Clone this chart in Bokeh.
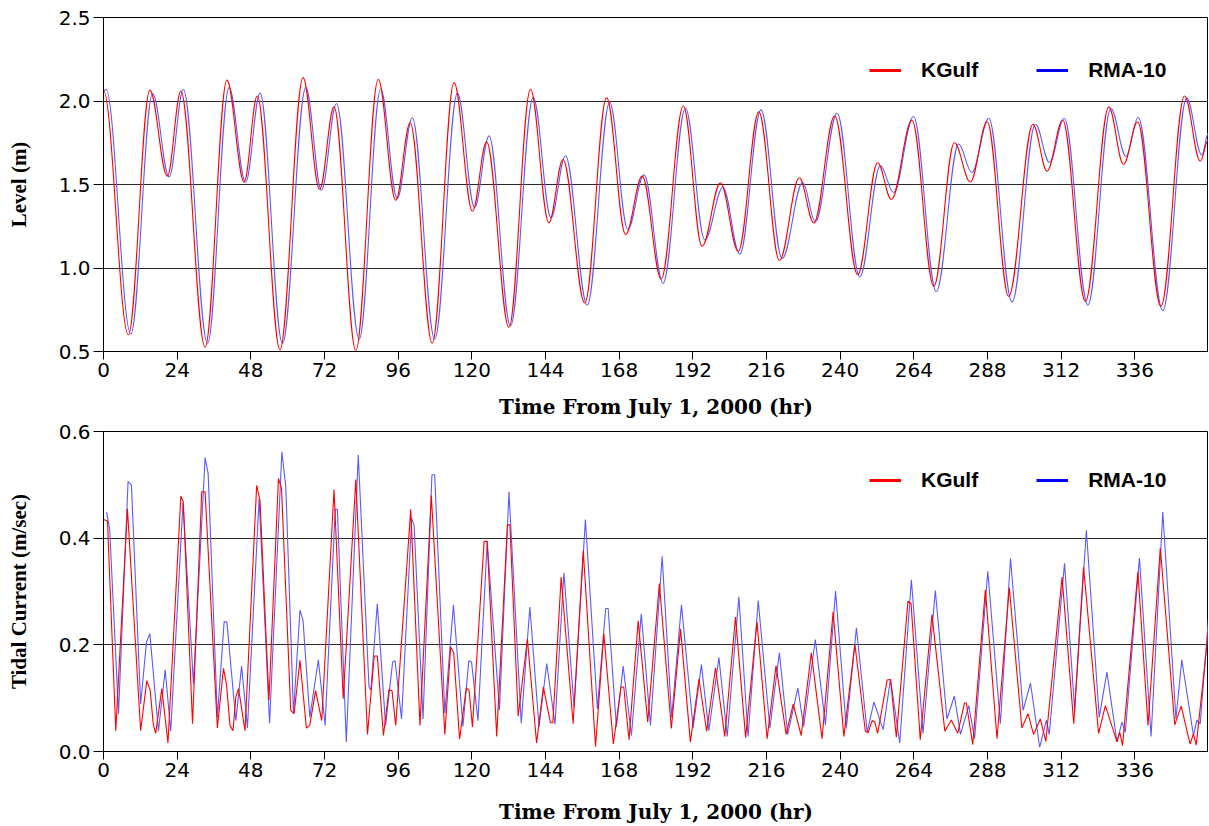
import numpy as np
from bokeh.plotting import figure
from bokeh.layouts import column
from bokeh.models import FixedTicker, PrintfTickFormatter, Legend, LegendItem, Range1d
from bokeh.embed import file_html
from bokeh.resources import INLINE

# ---------------- data (turning points of each series) ----------------
# Water level (m): KGulf
lev_k_t = [0, 8.1, 15.1, 20.8, 25.2, 33.1, 40.2, 45.8, 50.1, 57.5,
           65.0, 70.4, 75.1, 82.2, 89.5, 95.2, 99.9, 107.1, 114.2, 120.2,
           124.8, 132.1, 139.1, 145.1, 149.7, 156.8, 163.9, 170.1, 175.5, 181.7,
           188.9, 195.0, 201.0, 206.8, 213.5, 220.2, 226.7, 231.4, 238.2, 245.7,
           252.2, 256.7, 263.4, 270.5, 277.2, 282.4, 287.9, 294.9, 302.8, 307.4,
           312.5, 319.9, 327.5, 332.3, 336.9, 344.5, 352.2, 357.3, 360]
lev_k_v = [2.06, 0.60, 2.065, 1.55, 2.06, 0.525, 2.125, 1.515, 2.03, 0.51,
           2.14, 1.47, 1.965, 0.505, 2.13, 1.405, 1.87, 0.55, 2.11, 1.34,
           1.755, 0.645, 2.07, 1.27, 1.65, 0.79, 2.02, 1.20, 1.55, 0.935,
           1.97, 1.13, 1.51, 1.10, 1.935, 1.045, 1.54, 1.27, 1.91, 0.96,
           1.63, 1.41, 1.885, 0.89, 1.75, 1.515, 1.875, 0.83, 1.86, 1.58,
           1.885, 0.80, 1.965, 1.62, 1.875, 0.77, 2.03, 1.64, 1.77]
# Water level (m): RMA-10
lev_r_t = [0, 0.8, 8.9, 16.0, 21.4, 26.0, 33.9, 40.9, 46.3, 51.0,
           58.3, 65.9, 71.0, 75.9, 83.3, 90.3, 95.7, 100.6, 107.9, 115.3,
           120.9, 125.6, 132.6, 140.0, 145.8, 150.5, 157.6, 164.9, 170.8, 176.1,
           182.3, 189.6, 195.9, 201.8, 207.3, 214.2, 221.1, 227.8, 231.9, 239.0,
           246.4, 253.1, 257.4, 263.9, 271.3, 278.6, 282.9, 288.4, 296.0, 303.6,
           308.2, 313.0, 320.7, 328.2, 333.1, 337.1, 345.1, 352.9, 357.8, 360]
lev_r_v = [2.06, 2.07, 0.605, 2.045, 1.545, 2.07, 0.548, 2.08, 1.512, 2.047,
           0.548, 2.08, 1.466, 1.985, 0.574, 2.07, 1.416, 1.90, 0.574, 2.047,
           1.362, 1.791, 0.654, 2.021, 1.302, 1.672, 0.778, 1.991, 1.232, 1.558,
           0.909, 1.957, 1.169, 1.482, 1.083, 1.947, 1.057, 1.512, 1.276, 1.927,
           0.947, 1.612, 1.452, 1.907, 0.859, 1.742, 1.572, 1.897, 0.797, 1.861,
           1.632, 1.897, 0.778, 1.955, 1.668, 1.901, 0.744, 2.017, 1.676, 1.81]

# Tidal current (m/sec): KGulf
cur_k_t = [0, 1.3, 4.0, 7.8, 12.1, 14.1, 15.2, 16.2, 17.0, 19.0,
           21.0, 25.2, 26.0, 29.0, 32.0, 33.1, 37.1, 39.1, 40.1, 41.2,
           42.2, 43.1, 44.0, 46.1, 49.9, 51.0, 53.9, 57.0, 58.0, 61.0,
           62.1, 64.0, 66.1, 67.2, 69.1, 71.1, 75.1, 78.1, 82.2, 86.0,
           88.2, 89.2, 91.2, 93.0, 94.0, 95.2, 100.1, 103.1, 106.8, 111.2,
           113.1, 114.1, 116.0, 118.2, 119.1, 120.2, 124.0, 125.0, 128.1, 131.6,
           132.4, 135.1, 138.1, 141.1, 143.3, 145.6, 146.4, 149.1, 153.0, 156.3,
           160.3, 163.0, 166.1, 168.6, 169.5, 171.2, 174.2, 177.3, 181.1, 185.0,
           188.0, 191.2, 194.0, 196.5, 199.4, 202.4, 205.9, 209.2, 212.9, 216.2,
           219.1, 222.4, 224.7, 227.3, 230.6, 234.1, 237.7, 241.2, 244.8, 248.2,
           249.1, 250.4, 251.3, 252.2, 255.3, 256.4, 258.3, 262.1, 263.1, 266.1,
           269.9, 274.1, 276.2, 278.3, 280.5, 281.1, 283.2, 287.3, 291.1, 295.1,
           299.2, 301.2, 303.0, 305.2, 307.0, 312.3, 316.1, 319.3, 324.2, 326.4,
           330.2, 331.1, 332.0, 337.0, 340.3, 344.3, 349.0, 351.1, 354.0, 355.1,
           356.0, 360]
cur_k_v = [0.435, 0.432, 0.039, 0.455, 0.039, 0.133, 0.115, 0.052, 0.034, 0.118,
           0.016, 0.479, 0.468, 0.052, 0.487, 0.487, 0.044, 0.156, 0.124, 0.049,
           0.039, 0.102, 0.118, 0.039, 0.499, 0.470, 0.096, 0.512, 0.493, 0.077,
           0.071, 0.171, 0.044, 0.049, 0.114, 0.058, 0.491, 0.099, 0.510, 0.032,
           0.179, 0.179, 0.030, 0.116, 0.114, 0.049, 0.454, 0.049, 0.480, 0.032,
           0.196, 0.185, 0.023, 0.119, 0.115, 0.046, 0.394, 0.394, 0.028, 0.425,
           0.425, 0.066, 0.211, 0.016, 0.121, 0.054, 0.054, 0.327, 0.052, 0.377,
           0.009, 0.221, 0.014, 0.121, 0.121, 0.022, 0.245, 0.055, 0.315, 0.043,
           0.230, 0.018, 0.136, 0.038, 0.157, 0.028, 0.252, 0.026, 0.243, 0.024,
           0.161, 0.032, 0.089, 0.030, 0.185, 0.024, 0.262, 0.028, 0.201, 0.038,
           0.035, 0.058, 0.055, 0.034, 0.134, 0.135, 0.027, 0.282, 0.277, 0.022,
           0.257, 0.038, 0.059, 0.034, 0.091, 0.091, 0.013, 0.303, 0.024, 0.307,
           0.044, 0.071, 0.032, 0.061, 0.019, 0.327, 0.052, 0.346, 0.034, 0.086,
           0.018, 0.036, 0.011, 0.337, 0.049, 0.382, 0.050, 0.085, 0.014, 0.033,
           0.012, 0.228]
# Tidal current (m/sec): RMA-10
cur_r_t = [1.0, 2.0, 4.9, 8.0, 9.1, 12.1, 14.0, 15.1, 17.9, 20.1,
           21.9, 25.9, 29.3, 33.1, 34.1, 37.1, 39.3, 40.2, 43.1, 45.0,
           46.9, 50.7, 54.1, 58.1, 59.4, 61.9, 64.0, 65.0, 67.2, 70.0,
           72.2, 75.5, 76.2, 79.1, 83.0, 86.5, 87.1, 89.2, 91.9, 94.2,
           95.0, 97.1, 100.4, 101.2, 104.1, 107.0, 107.9, 111.2, 114.0, 117.1,
           119.0, 119.9, 122.0, 125.0, 129.0, 132.1, 136.1, 138.9, 141.9, 144.4,
           147.1, 150.0, 153.3, 157.0, 160.9, 163.6, 164.4, 167.1, 169.3, 172.0,
           175.2, 178.2, 182.0, 185.1, 188.3, 192.1, 194.8, 197.2, 200.5, 203.2,
           207.0, 210.0, 213.3, 217.1, 220.2, 222.9, 226.2, 228.1, 231.9, 235.2,
           238.5, 242.0, 245.3, 248.8, 251.0, 254.0, 256.4, 259.4, 263.2, 267.0,
           271.0, 274.8, 277.2, 279.2, 281.9, 283.8, 288.1, 292.2, 295.5, 299.6,
           302.0, 305.0, 307.2, 308.1, 313.1, 316.4, 320.2, 324.4, 326.9, 330.2,
           331.8, 332.9, 337.5, 341.3, 345.1, 349.4, 351.3, 355.1, 356.2, 357.3,
           360]
cur_r_v = [0.449, 0.418, 0.071, 0.506, 0.500, 0.089, 0.205, 0.221, 0.038, 0.153,
           0.038, 0.466, 0.127, 0.551, 0.521, 0.064, 0.243, 0.243, 0.058, 0.160,
           0.044, 0.474, 0.053, 0.562, 0.496, 0.071, 0.265, 0.246, 0.064, 0.172,
           0.049, 0.454, 0.454, 0.018, 0.556, 0.121, 0.115, 0.277, 0.049, 0.168,
           0.170, 0.061, 0.437, 0.424, 0.061, 0.519, 0.519, 0.072, 0.275, 0.047,
           0.170, 0.168, 0.058, 0.393, 0.078, 0.487, 0.053, 0.271, 0.046, 0.165,
           0.051, 0.335, 0.083, 0.435, 0.080, 0.268, 0.268, 0.046, 0.160, 0.030,
           0.258, 0.049, 0.366, 0.064, 0.275, 0.044, 0.163, 0.039, 0.176, 0.028,
           0.290, 0.028, 0.283, 0.044, 0.185, 0.032, 0.119, 0.047, 0.210, 0.050,
           0.301, 0.043, 0.232, 0.036, 0.093, 0.041, 0.136, 0.016, 0.322, 0.034,
           0.302, 0.061, 0.104, 0.032, 0.086, 0.024, 0.338, 0.052, 0.362, 0.077,
           0.128, 0.008, 0.059, 0.032, 0.353, 0.078, 0.415, 0.064, 0.149, 0.018,
           0.055, 0.036, 0.363, 0.028, 0.449, 0.061, 0.172, 0.030, 0.059, 0.052,
           0.250]

x_ticks = [0, 24, 48, 72, 96, 120, 144, 168, 192, 216, 240, 264, 288, 312, 336]
lev_ticks = [0.5, 1.0, 1.5, 2.0, 2.5]
cur_ticks = [0.0, 0.2, 0.4, 0.6]
series_names = ["KGulf", "RMA-10"]
x_title = "Time From July 1, 2000 (hr)"

RED = "#ff0000"
BLUE = "#5a5aff"


def make_fig(fh, yr, yticks, ylabel, btop, bbottom, xstand):
    p = figure(frame_width=1105, frame_height=fh,
               x_range=Range1d(0, 360), y_range=Range1d(*yr),
               output_backend="svg", toolbar_location=None,
               min_border_left=103, min_border_right=0,
               min_border_top=btop, min_border_bottom=bbottom)
    p.background_fill_color = "white"
    p.border_fill_color = "white"
    p.outline_line_color = "black"
    p.outline_line_width = 1
    p.xgrid.visible = False
    p.ygrid.ticker = FixedTicker(ticks=yticks)
    p.ygrid.grid_line_color = "#2a2a2a"
    p.ygrid.grid_line_width = 1

    xa = p.xaxis[0]
    xa.ticker = FixedTicker(ticks=x_ticks)
    xa.major_tick_out = 8
    xa.major_tick_in = 0
    xa.minor_tick_out = 0
    xa.minor_tick_in = 0
    xa.major_tick_line_color = "black"
    xa.axis_line_color = "black"
    xa.major_label_standoff = 3
    xa.major_label_text_font = "DejaVu Sans"
    xa.major_label_text_font_size = "20px"
    xa.major_label_text_color = "black"
    xa.axis_label = x_title
    xa.axis_label_text_font = "DejaVu Serif"
    xa.axis_label_text_font_style = "bold"
    xa.axis_label_text_font_size = "20px"
    xa.axis_label_text_color = "black"
    xa.axis_label_standoff = xstand

    ya = p.yaxis[0]
    ya.ticker = FixedTicker(ticks=yticks)
    ya.formatter = PrintfTickFormatter(format="%.1f")
    ya.major_tick_out = 10
    ya.major_tick_in = 0
    ya.minor_tick_out = 0
    ya.minor_tick_in = 0
    ya.major_tick_line_color = "black"
    ya.axis_line_color = "black"
    ya.major_label_standoff = 3
    ya.major_label_text_font = "DejaVu Sans"
    ya.major_label_text_font_size = "20px"
    ya.major_label_text_color = "black"
    ya.axis_label = ylabel
    ya.axis_label_text_font = "Liberation Serif"
    ya.axis_label_text_font_style = "bold"
    ya.axis_label_text_font_size = "21px"
    ya.axis_label_text_color = "black"
    ya.axis_label_standoff = 25
    return p


def smooth(p, t, v, color):
    # smooth curve through the turning points (cubic Bezier segments)
    t = np.asarray(t, dtype=float)
    v = np.asarray(v, dtype=float)
    d = np.diff(t) * 0.364
    p.bezier(x0=t[:-1], y0=v[:-1], x1=t[1:], y1=v[1:],
             cx0=t[:-1] + d, cy0=v[:-1], cx1=t[1:] - d, cy1=v[1:],
             line_color=color, line_width=1.1)


def add_legend(p, y, tk, vk, tr, vr):
    # hidden thick copies of the series, used only for the legend samples
    lr = p.line(tk, vk, line_color="#ff0000", line_width=3, visible=False)
    lb = p.line(tr, vr, line_color="#0000ff", line_width=3, visible=False)
    leg = Legend(items=[LegendItem(label=series_names[0], renderers=[lr]),
                        LegendItem(label=series_names[1], renderers=[lb])],
                 orientation="horizontal", location=(766, y),
                 padding=0, margin=0, spacing=58, label_standoff=20,
                 glyph_width=32, glyph_height=20, label_height=20,
                 border_line_alpha=0, background_fill_alpha=0,
                 inactive_fill_alpha=0,
                 label_text_font="Liberation Sans", label_text_font_style="bold",
                 label_text_font_size="21px", label_text_color="black",
                 label_text_baseline="middle")
    p.add_layout(leg)


p1 = make_fig(334, (0.5, 2.5), lev_ticks, "Level (m)", 17, 69, 15)
smooth(p1, lev_r_t, lev_r_v, BLUE)
smooth(p1, lev_k_t, lev_k_v, RED)
add_legend(p1, 269, lev_k_t, lev_k_v, lev_r_t, lev_r_v)

p2 = make_fig(320, (0.0, 0.6), cur_ticks, "Tidal Current (m/sec)", 10, 74, 20)
p2.line(cur_r_t, cur_r_v, line_color=BLUE, line_width=1.1)
p2.line(cur_k_t, cur_k_v, line_color=RED, line_width=1.1)
add_legend(p2, 259, cur_k_t, cur_k_v, cur_r_t, cur_r_v)

layout = column(p1, p2)
open("out.html", "w").write(file_html(layout, INLINE))
